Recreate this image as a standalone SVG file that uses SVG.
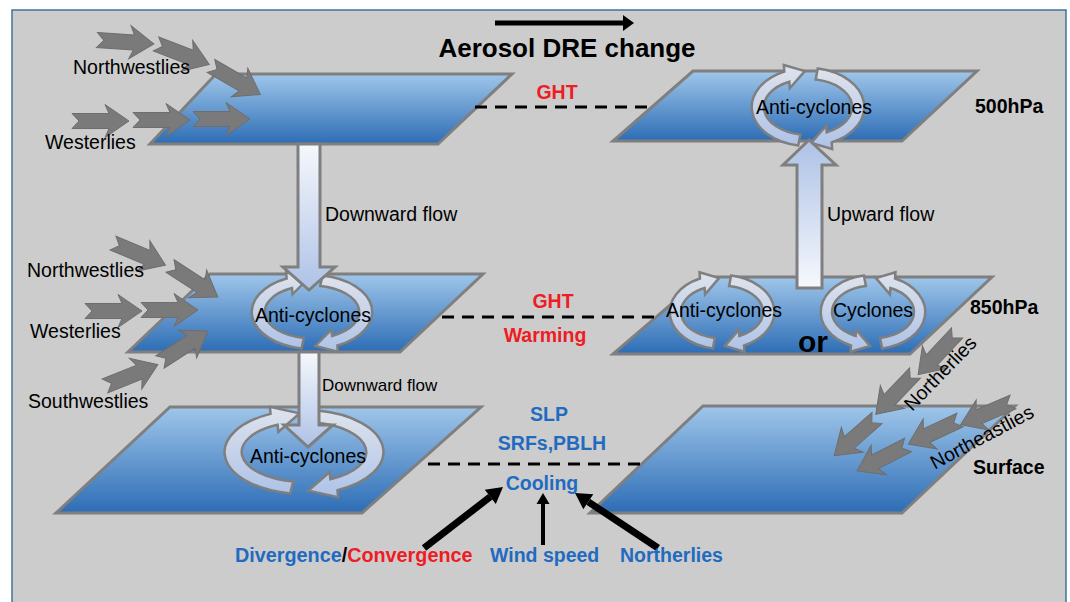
<svg xmlns="http://www.w3.org/2000/svg" xmlns:xlink="http://www.w3.org/1999/xlink" width="1070" height="602" viewBox="0 0 1070 602">
<style>
.plane{fill:url(#planeGrad);stroke:#7f7f7f;stroke-width:3;stroke-linejoin:miter}
.band{fill:url(#ringGrad);stroke:#7f7f7f;stroke-width:2.5;stroke-linejoin:miter;vector-effect:non-scaling-stroke}
.flowD{fill:url(#flowDown);stroke:#7f7f7f;stroke-width:3}
.flowU{fill:url(#flowUp);stroke:#7f7f7f;stroke-width:3}
.wind{fill:#7a7a7a;stroke:#6e6e6e;stroke-width:1}
.dash{stroke:#000;stroke-width:3;stroke-dasharray:12 8;fill:none}
.blk{fill:#000}
text{font-family:"Liberation Sans",Arial,sans-serif;font-size:19.5px;fill:#000}
.b{font-weight:bold}
.red{fill:#ee1c24;font-weight:bold}
.blue{fill:#1f6bbf;font-weight:bold}
</style>
<defs>
<linearGradient id="planeGrad" x1="0" y1="0" x2="0" y2="1">
<stop offset="0" stop-color="#9fc6ea"/>
<stop offset="1" stop-color="#2d6db5"/>
</linearGradient>
<linearGradient id="ringGrad" x1="0" y1="0" x2="0" y2="1">
<stop offset="0" stop-color="#dfe3ec"/>
<stop offset="1" stop-color="#aec3e8"/>
</linearGradient>
<linearGradient id="flowDown" x1="0" y1="0" x2="0" y2="1">
<stop offset="0" stop-color="#f6f8fc"/>
<stop offset="1" stop-color="#aec2e6"/>
</linearGradient>
<linearGradient id="flowUp" x1="0" y1="1" x2="0" y2="0">
<stop offset="0" stop-color="#f6f8fc"/>
<stop offset="1" stop-color="#aec2e6"/>
</linearGradient>
<g id="ring">
<path class="band" d="M -11.5 41.4 A 66 42 0 0 1 -27.9 -38.1 L -28.4 -45.1 L -3.7 -38.6 L -21.4 -20.1 L -22.0 -27.2 A 52 30 0 0 0 -9.0 29.5 Z"/>
<path class="band" d="M 11.5 -41.4 A 66 42 0 0 1 27.9 38.1 L 28.4 45.1 L 3.7 38.6 L 21.4 20.1 L 22.0 27.2 A 52 30 0 0 0 9.0 -29.5 Z"/>
</g>
<path id="wind" class="wind" d="M0,-7.5 L37,-7.5 L33,-16.5 L57,0 L33,16.5 L37,7.5 L0,7.5 L7,0 Z"/>
</defs>

<rect x="0" y="0" width="1070" height="602" fill="#ffffff"/>
<rect x="12" y="10" width="1054" height="600" fill="#cccccc" stroke="#41719c" stroke-width="1.5"/>

<g id="plane-500-left"><polygon class="plane" points="216,74 512,74 438,144 150,144"/></g>
<g id="plane-500-right"><polygon class="plane" points="693,71 977,71 902,141 613,141"/></g>
<g id="plane-850-left"><polygon class="plane" points="210,274 483,274 400,352 128,352"/></g>
<g id="plane-850-right"><polygon class="plane" points="703,277 992,277 910,354 613,354"/></g>
<g id="plane-surface-left"><polygon class="plane" points="170,407 481,407 362,513 56,513"/></g>
<g id="plane-surface-right"><polygon class="plane" points="703,406 1015,406 902,513 590,513"/></g>

<g id="connectors">
<line class="dash" x1="475" y1="107" x2="650" y2="107"/>
<line class="dash" x1="442" y1="317" x2="657" y2="317"/>
<line class="dash" x1="428" y1="464" x2="640" y2="464"/>
<polygon class="blk" points="495,20.5 623,20.5 623,15 634,23 623,31 623,25.5 495,25.5"/>
<line x1="424" y1="548" x2="490.3" y2="496.8" stroke="#000" stroke-width="7"/>
<polygon class="blk" points="503,487 495.8,503.9 484.8,489.7"/>
<line x1="543" y1="545" x2="543" y2="502" stroke="#000" stroke-width="4"/>
<polygon class="blk" points="543,493 549.5,504 536.5,504"/>
<line x1="658" y1="548" x2="588.3" y2="501.8" stroke="#000" stroke-width="7"/>
<polygon class="blk" points="575,493 593.3,494.3 583.3,509.3"/>
</g>

<g id="ring-500-right"><use xlink:href="#ring" href="#ring" transform="translate(808,107) scale(0.85,0.93)"/></g>
<g id="ring-850-left"><use xlink:href="#ring" href="#ring" transform="translate(312,312) scale(0.91,0.88)"/></g>
<g id="ring-850-right-anti"><use xlink:href="#ring" href="#ring" transform="translate(722,312) scale(0.79,0.88)"/></g>
<g id="ring-850-right-cyc"><use xlink:href="#ring" href="#ring" transform="translate(873,312) scale(-0.79,0.88)"/></g>
<g id="ring-surface-left"><use xlink:href="#ring" href="#ring" transform="translate(304,452) scale(1.2,1.0)"/></g>

<g id="flow-down-1"><path class="flowD" d="M298,144 L320,144 L320,267 L335,267 L309,290 L283,267 L298,267 Z"/></g>
<g id="flow-down-2"><path class="flowD" d="M299,352 L319,352 L319,425 L333,425 L308,447 L284,425 L299,425 Z"/></g>
<g id="flow-up"><path class="flowU" d="M797,288 L822,288 L822,165 L836,165 L809,140 L783,165 L797,165 Z"/></g>

<g id="winds-500">
<use href="#wind" xlink:href="#wind" transform="translate(97,40) rotate(4)"/>
<use href="#wind" xlink:href="#wind" transform="translate(156,44) rotate(21)"/>
<use href="#wind" xlink:href="#wind" transform="translate(211,66) rotate(30)"/>
<use href="#wind" xlink:href="#wind" transform="translate(72,121)"/>
<use href="#wind" xlink:href="#wind" transform="translate(133,120)"/>
<use href="#wind" xlink:href="#wind" transform="translate(193,119)"/>
</g>
<g id="winds-850">
<use href="#wind" xlink:href="#wind" transform="translate(113,243) rotate(23)"/>
<use href="#wind" xlink:href="#wind" transform="translate(170,266) rotate(33)"/>
<use href="#wind" xlink:href="#wind" transform="translate(85,311)"/>
<use href="#wind" xlink:href="#wind" transform="translate(141,310)"/>
<use href="#wind" xlink:href="#wind" transform="translate(105,386) rotate(-22)"/>
<use href="#wind" xlink:href="#wind" transform="translate(160,362) rotate(-33)"/>
</g>
<g id="winds-surface">
<use href="#wind" xlink:href="#wind" transform="translate(957,333) rotate(133)"/>
<use href="#wind" xlink:href="#wind" transform="translate(915,373) rotate(133.5)"/>
<use href="#wind" xlink:href="#wind" transform="translate(877,418) rotate(138.6)"/>
<use href="#wind" xlink:href="#wind" transform="translate(1013,402) rotate(156.7)"/>
<use href="#wind" xlink:href="#wind" transform="translate(960,420) rotate(155)"/>
<use href="#wind" xlink:href="#wind" transform="translate(908,445) rotate(153)"/>
</g>

<g id="labels">
<text class="b" x="567" y="57" text-anchor="middle" style="font-size:26px">Aerosol DRE change</text>
<text class="red" x="557" y="99" text-anchor="middle">GHT</text>
<text class="red" x="553" y="308" text-anchor="middle">GHT</text>
<text class="red" x="545" y="342" text-anchor="middle">Warming</text>
<text class="b" x="975" y="113">500hPa</text>
<text class="b" x="970" y="314">850hPa</text>
<text class="b" x="973" y="474">Surface</text>
<text x="73" y="74">Northwestlies</text>
<text x="45" y="149">Westerlies</text>
<text x="27" y="277">Northwestlies</text>
<text x="30" y="338">Westerlies</text>
<text x="28" y="408">Southwestlies</text>
<text x="325" y="221">Downward flow</text>
<text x="322" y="391" style="font-size:17px">Downward flow</text>
<text x="827" y="221">Upward flow</text>
<text x="814" y="114" text-anchor="middle">Anti-cyclones</text>
<text x="313" y="322" text-anchor="middle">Anti-cyclones</text>
<text x="724" y="317" text-anchor="middle">Anti-cyclones</text>
<text x="873" y="317" text-anchor="middle">Cyclones</text>
<text x="308" y="463" text-anchor="middle">Anti-cyclones</text>
<text class="b" x="813" y="352" text-anchor="middle" style="font-size:30px">or</text>
<text class="blue" x="549" y="421" text-anchor="middle">SLP</text>
<text class="blue" x="552" y="450" text-anchor="middle">SRFs,PBLH</text>
<text class="blue" x="542" y="490" text-anchor="middle">Cooling</text>
<text x="235" y="562" style="font-weight:bold;font-size:19.8px"><tspan fill="#1f6bbf">Divergence</tspan><tspan fill="#000">/</tspan><tspan fill="#ee1c24">Convergence</tspan></text>
<text class="blue" x="490" y="562">Wind speed</text>
<text class="blue" x="620" y="562">Northerlies</text>
<text x="945" y="378" text-anchor="middle" transform="rotate(-46 945 378)">Northerlies</text>
<text x="985" y="443" text-anchor="middle" transform="rotate(-28 985 443)">Northeastlies</text>
</g>
</svg>
